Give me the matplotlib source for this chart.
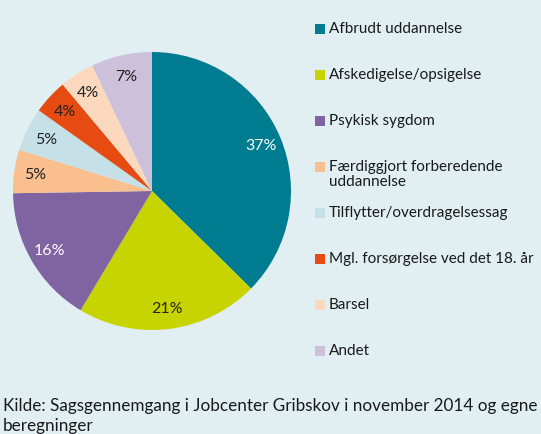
import matplotlib.pyplot as plt
from matplotlib.patches import Rectangle

categories = ['Afbrudt uddannelse', 'Afskedigelse/opsigelse', 'Psykisk sygdom',
              'Færdiggjort forberedende\nuddannelse', 'Tilflytter/overdragelsessag',
              'Mgl. forsørgelse ved det 18. år', 'Barsel', 'Andet']
values = [37, 21, 16, 5, 5, 4, 4, 7]
colors = ['#007C91', '#C8D400', '#8064A2', '#F9BF8F', '#C6E0E8',
          '#E64B12', '#FCD9BE', '#CCC0DA']
label_colors = ['white', '#222222', 'white', '#222222', '#222222',
                '#222222', '#222222', '#222222']
source = 'Kilde: Sagsgennemgang i Jobcenter Gribskov i november 2014 og egne\nberegninger'

bg = '#E1EFF3'
plt.rcParams['font.family'] = ['Lato', 'DejaVu Sans']

W, H = 541, 435
fig = plt.figure(figsize=(W / 100, H / 100), dpi=100, facecolor=bg)

# pie axes placed in pixel terms
cx, cy, r = 152, 192, 139
ax = fig.add_axes([(cx - r) / W, (H - cy - r) / H, 2 * r / W, 2 * r / H])
ax.set_facecolor(bg)
wedges, texts, autotexts = ax.pie(values, colors=colors, startangle=90, counterclock=False,
                                  autopct=lambda p: f'{p:.0f}%', pctdistance=0.85,
                                  wedgeprops=dict(linewidth=0))
for t, c in zip(autotexts, label_colors):
    t.set_color(c)
    t.set_fontsize(11.5)
ax.set_xlim(-1, 1)
ax.set_ylim(-1, 1)
ax.axis('off')

# legend drawn by hand, fixed slot pitch like the original
for i, (lab, col) in enumerate(zip(categories, colors)):
    y = 30 + i * 46
    fig.patches.append(Rectangle((315 / W, 1 - (y + 5) / H), 10 / W, 10 / H,
                                 transform=fig.transFigure, facecolor=col,
                                 edgecolor='none'))
    fig.text(329 / W, 1 - (y - 8) / H, lab, fontsize=11, color='#1a1a1a',
             va='top', ha='left', linespacing=1.1)

fig.text(3 / W, 1 - 398 / H, source, fontsize=12.3, color='#1a1a1a',
         va='top', ha='left', linespacing=1.3)

fig.savefig('out.png', dpi=100, facecolor=bg)
